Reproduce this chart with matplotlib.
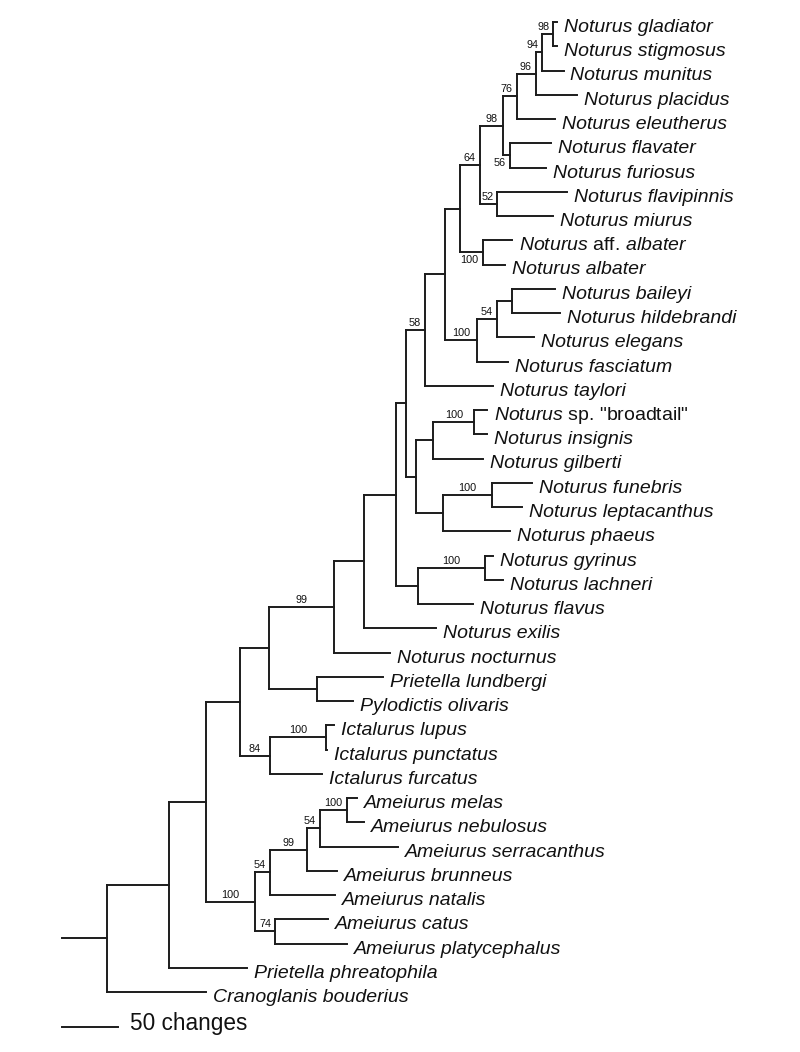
import matplotlib.pyplot as plt

plt.rcParams['font.family'] = ['Liberation Sans', 'DejaVu Sans']
plt.rcParams['mathtext.fontset'] = 'custom'
plt.rcParams['mathtext.rm'] = 'Liberation Sans'
plt.rcParams['mathtext.it'] = 'Liberation Sans:italic'

# tree edges: parent, child, branch length (changes), children listed top to bottom
edge_parent = ["", "root", "root", "A", "A", "B", "B", "C", "C", "D", "D",
               "Not99", "Not99", "N364", "N364", "N396", "N396", "N406", "N406",
               "N58", "N58", "N445", "N445", "N460", "N460", "N64", "N64",
               "N98", "N98", "N76", "N76", "N96", "N96", "N94", "N94", "N98a", "N98a",
               "N56", "N56", "N52", "N52", "Nalb", "Nalb", "N100b", "N100b",
               "N54", "N54", "N512", "N512", "N416", "N416", "N433", "N433",
               "Nbt", "Nbt", "N442", "N442", "Nfun", "Nfun", "N418", "N418",
               "Ngyr", "Ngyr", "PP", "PP", "Ict84", "Ict84", "Ict100", "Ict100",
               "Am", "Am", "Am54", "Am54", "Am99", "Am99", "Am54b", "Am54b",
               "Am100", "Am100", "Am74", "Am74"]
edge_child = ["root", "A", "Cranoglanis bouderius", "B", "Prietella phreatophila",
              "C", "Am", "D", "Ict84", "Not99", "PP",
              "N364", "Noturus nocturnus", "N396", "Noturus exilis", "N406", "N418",
              "N58", "N416", "N445", "Noturus taylori", "N460", "N100b", "N64", "Nalb",
              "N98", "N52", "N76", "N56", "N96", "Noturus eleutherus",
              "N94", "Noturus placidus", "N98a", "Noturus munitus",
              "Noturus gladiator", "Noturus stigmosus",
              "Noturus flavater", "Noturus furiosus", "Noturus flavipinnis", "Noturus miurus",
              "Noturus aff. albater", "Noturus albater", "N54", "Noturus fasciatum",
              "N512", "Noturus elegans", "Noturus baileyi", "Noturus hildebrandi",
              "N433", "N442", "Nbt", "Noturus gilberti",
              'Noturus sp. "broadtail"', "Noturus insignis", "Nfun", "Noturus phaeus",
              "Noturus funebris", "Noturus leptacanthus", "Ngyr", "Noturus flavus",
              "Noturus gyrinus", "Noturus lachneri",
              "Prietella lundbergi", "Pylodictis olivaris", "Ict100", "Ictalurus furcatus",
              "Ictalurus lupus", "Ictalurus punctatus",
              "Am54", "Am74", "Am99", "Ameiurus natalis", "Am54b", "Ameiurus brunneus",
              "Am100", "Ameiurus serracanthus", "Ameiurus melas", "Ameiurus nebulosus",
              "Ameiurus catus", "Ameiurus platycephalus"]
edge_length = [40, 55, 88.5, 33, 69.5, 30.5, 44, 26, 26.5, 58, 42.5,
               26.5, 50.5, 29, 65, 8.5, 19.5, 17.5, 9,
               18, 60.5, 13, 28, 18, 20.5, 20.5, 15.5,
               12.5, 6, 16.5, 34, 6, 37, 10, 19, 3, 3,
               36.5, 32, 62, 50, 26, 20, 18, 28,
               13.5, 33, 38, 42.5, 15.5, 24, 37, 45,
               11.5, 11.5, 44.5, 60, 35, 26.5, 59.5, 49,
               7.5, 16.5, 59.5, 32.5, 50.5, 47, 7.5, 1,
               13.5, 18, 33, 58, 11.5, 27, 24.5, 69.5,
               8.5, 14.5, 47.5, 64]

# bootstrap support
support = {"Not99": 99, "Ict84": 84, "Ict100": 100, "Am": 100, "Am54": 54,
           "Am99": 99, "Am54b": 54, "Am100": 100, "Am74": 74, "N58": 58,
           "N64": 64, "N98": 98, "N76": 76, "N96": 96, "N94": 94, "N98a": 98,
           "N56": 56, "N52": 52, "Nalb": 100, "N100b": 100, "N54": 54,
           "Nbt": 100, "Nfun": 100, "Ngyr": 100}
below = ["N56", "Nalb"]

scale_len = 50
scale_text = "50 changes"

children = {}
blen = {}
for p, c, l in zip(edge_parent, edge_child, edge_length):
    children.setdefault(p, []).append(c)
    blen[c] = l

depth = {"": 0.0}
def set_depth(node):
    for c in children.get(node, []):
        depth[c] = depth[node] + blen[c]
        set_depth(c)
set_depth("")

ypos = {}
leaves = []
def set_y(node):
    kids = children.get(node, [])
    if not kids:
        ypos[node] = len(leaves)
        leaves.append(node)
    else:
        for c in kids:
            set_y(c)
        ypos[node] = (ypos[kids[0]] + ypos[kids[-1]]) / 2
set_y("root")

fig = plt.figure(figsize=(8, 10.52), dpi=100)
ax = fig.add_axes([0, 0, 1, 1])
ax.axis('off')
px = 1.12  # pixels per change
ax.set_xlim(-62.3 / px, (800 - 62.3) / px)
y0, dy = 22, 24.25
ax.set_ylim((1052 - y0) / dy, -y0 / dy)

lc = '#1c1c1c'
lw = 1.4
for p, c in zip(edge_parent, edge_child):
    ax.plot([depth[p], depth[c]], [ypos[c], ypos[c]], color=lc, lw=lw,
            solid_capstyle='projecting')
    kids = children.get(c, [])
    if kids:
        ax.plot([depth[c], depth[c]], [ypos[kids[0]], ypos[kids[-1]]], color=lc,
                lw=lw, solid_capstyle='projecting')

pt = 0.72  # points per pixel
for leaf in leaves:
    style = 'italic'
    label = leaf
    for q in (' aff. ', ' sp. '):
        if q in leaf:
            g, s = leaf.split(q)
            if s.startswith('"'):
                label = r'$\mathit{%s}$%s%s' % (g, q, s)
            else:
                label = r'$\mathit{%s}$%s$\mathit{%s}$' % (g, q, s)
            style = 'normal'
    ax.annotate(label, (depth[leaf], ypos[leaf]), xytext=(7 * pt, -10 * pt),
                textcoords='offset points', ha='left', va='baseline',
                fontsize=14, fontstyle=style, color='#111111')

for node, val in support.items():
    kids = children[node]
    parent = edge_parent[edge_child.index(node)]
    txt = str(val)
    if node in below:
        ax.annotate(txt, (depth[node], ypos[kids[-1]]), xytext=(-4.5 * pt, 1.5 * pt),
                    textcoords='offset points', ha='right', va='baseline',
                    fontsize=7.8, color='#111111')
        continue
    mid = (depth[parent] + depth[node]) / 2
    half_w = len(txt) * 6.1 / 2 / px
    cx = min(mid, depth[node] - 4 / px - half_w)
    ax.annotate(txt, (cx, ypos[node]), xytext=(0, 4 * pt),
                textcoords='offset points', ha='center', va='baseline',
                fontsize=7.8, color='#111111')

# scale bar
sy = (1027.3 - y0) / dy
ax.plot([0, scale_len], [sy, sy], color=lc, lw=lw)
ax.annotate(scale_text, (scale_len, sy), xytext=(12 * pt, -3 * pt),
            textcoords='offset points', ha='left', va='baseline',
            fontsize=16.3, color='#111111')

fig.savefig('out.png', dpi=100)
